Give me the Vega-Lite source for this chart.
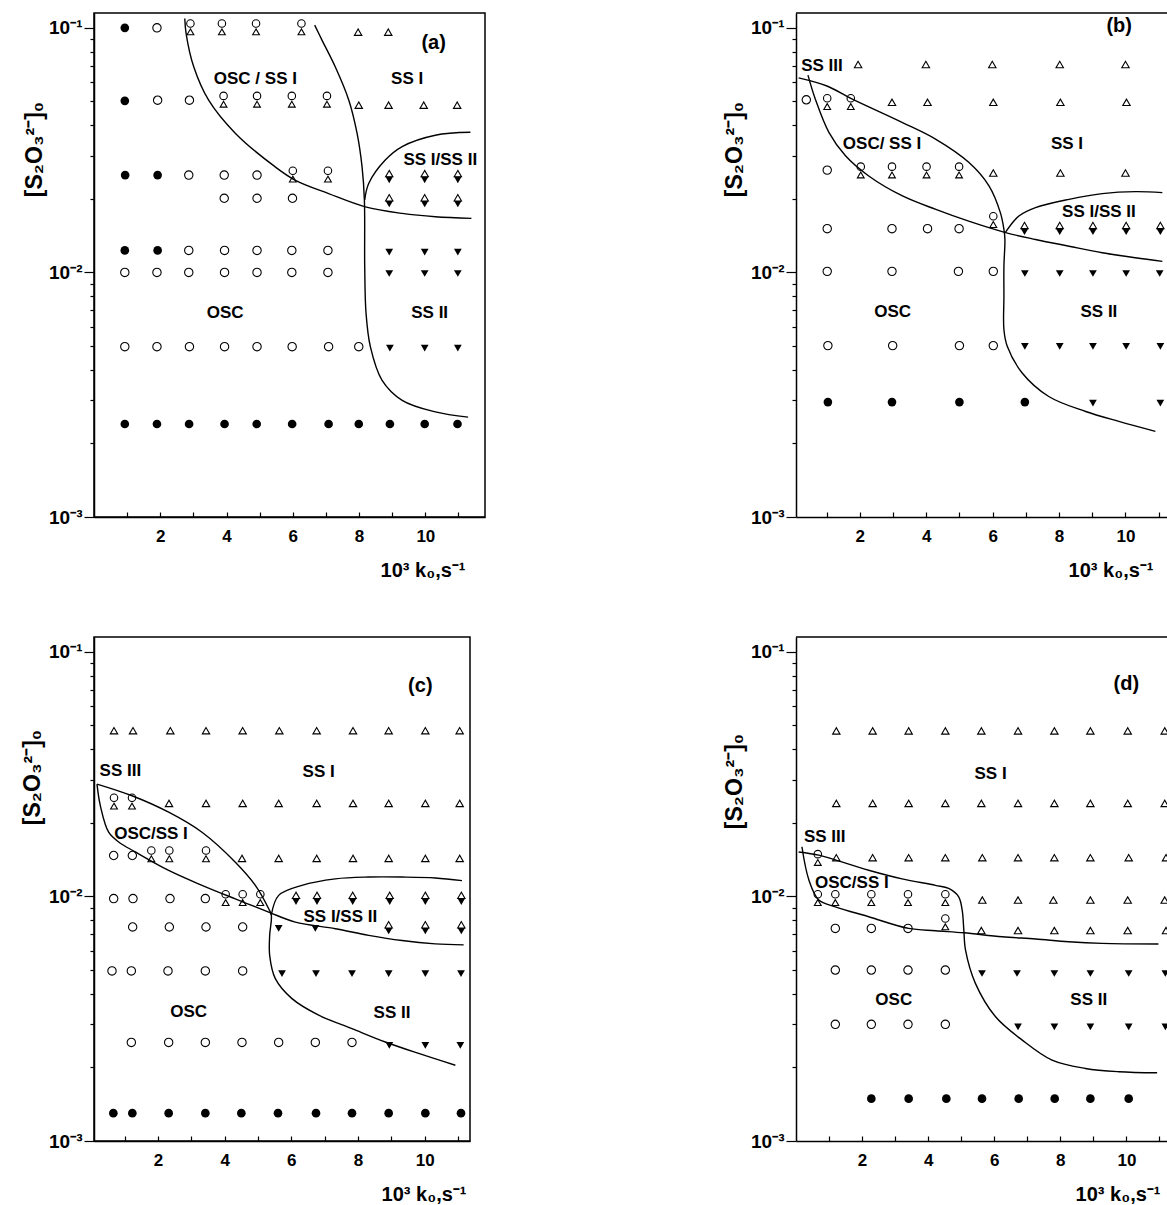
{
"$schema": "https://vega.github.io/schema/vega-lite/v6.json",
"background": "white",
"padding": {"left": 20, "top": 12, "right": 0, "bottom": 0},
"columns": 2,
"spacing": {"row": 120, "column": 311},
"bounds": "flush",
"datasets": {
"pts": [
{"p":"a","k":"fc","x":0.93,"y":0.1},{"p":"a","k":"oc","x":1.9,"y":0.1},{"p":"a","k":"co","x":2.91,"y":0.1},{"p":"a","k":"co","x":3.86,"y":0.1},{"p":"a","k":"co","x":4.89,"y":0.1},{"p":"a","k":"co","x":6.26,"y":0.1},{"p":"a","k":"ot","x":7.97,"y":0.096},{"p":"a","k":"ot","x":8.88,"y":0.096},
{"p":"a","k":"fc","x":0.93,"y":0.0503},{"p":"a","k":"oc","x":1.92,"y":0.0506},{"p":"a","k":"oc","x":2.88,"y":0.0506},{"p":"a","k":"co","x":3.91,"y":0.0506},{"p":"a","k":"co","x":4.92,"y":0.0506},{"p":"a","k":"co","x":5.97,"y":0.0506},{"p":"a","k":"co","x":7.03,"y":0.0506},{"p":"a","k":"ot","x":7.99,"y":0.0483},{"p":"a","k":"ot","x":8.89,"y":0.0483},{"p":"a","k":"ot","x":9.95,"y":0.0483},{"p":"a","k":"ot","x":10.96,"y":0.0483},
{"p":"a","k":"fc","x":0.94,"y":0.025},{"p":"a","k":"fc","x":1.92,"y":0.025},{"p":"a","k":"oc","x":2.86,"y":0.025},{"p":"a","k":"oc","x":3.93,"y":0.025},{"p":"a","k":"oc","x":4.92,"y":0.025},{"p":"a","k":"co","x":6.0,"y":0.025},{"p":"a","k":"co","x":7.06,"y":0.025},{"p":"a","k":"dm","x":8.91,"y":0.0246},{"p":"a","k":"dm","x":9.98,"y":0.0246},{"p":"a","k":"dm","x":10.98,"y":0.0246},
{"p":"a","k":"oc","x":3.93,"y":0.0201},{"p":"a","k":"oc","x":4.92,"y":0.0201},{"p":"a","k":"oc","x":5.99,"y":0.0201},{"p":"a","k":"dm","x":8.91,"y":0.0196},{"p":"a","k":"dm","x":9.98,"y":0.0196},{"p":"a","k":"dm","x":10.98,"y":0.0196},
{"p":"a","k":"fc","x":0.93,"y":0.0123},{"p":"a","k":"fc","x":1.92,"y":0.0123},{"p":"a","k":"oc","x":2.86,"y":0.0123},{"p":"a","k":"oc","x":3.94,"y":0.0123},{"p":"a","k":"oc","x":4.92,"y":0.0123},{"p":"a","k":"oc","x":5.97,"y":0.0123},{"p":"a","k":"oc","x":7.06,"y":0.0123},{"p":"a","k":"ftd","x":8.91,"y":0.0121},{"p":"a","k":"ftd","x":9.98,"y":0.0121},{"p":"a","k":"ftd","x":10.98,"y":0.0121},
{"p":"a","k":"oc","x":0.93,"y":0.01},{"p":"a","k":"oc","x":1.9,"y":0.01},{"p":"a","k":"oc","x":2.86,"y":0.01},{"p":"a","k":"oc","x":3.94,"y":0.01},{"p":"a","k":"oc","x":4.92,"y":0.01},{"p":"a","k":"oc","x":5.97,"y":0.01},{"p":"a","k":"oc","x":7.06,"y":0.01},{"p":"a","k":"ftd","x":8.91,"y":0.0099},{"p":"a","k":"ftd","x":9.98,"y":0.0099},{"p":"a","k":"ftd","x":10.98,"y":0.0099},
{"p":"a","k":"oc","x":0.93,"y":0.00497},{"p":"a","k":"oc","x":1.9,"y":0.00497},{"p":"a","k":"oc","x":2.88,"y":0.00497},{"p":"a","k":"oc","x":3.94,"y":0.00497},{"p":"a","k":"oc","x":4.92,"y":0.00497},{"p":"a","k":"oc","x":5.98,"y":0.00497},{"p":"a","k":"oc","x":7.08,"y":0.00497},{"p":"a","k":"oc","x":7.99,"y":0.00497},{"p":"a","k":"ftd","x":8.93,"y":0.0049},{"p":"a","k":"ftd","x":9.98,"y":0.0049},{"p":"a","k":"ftd","x":10.98,"y":0.0049},
{"p":"a","k":"fc","x":0.93,"y":0.0024},{"p":"a","k":"fc","x":1.9,"y":0.0024},{"p":"a","k":"fc","x":2.87,"y":0.0024},{"p":"a","k":"fc","x":3.94,"y":0.0024},{"p":"a","k":"fc","x":4.91,"y":0.0024},{"p":"a","k":"fc","x":5.98,"y":0.0024},{"p":"a","k":"fc","x":7.08,"y":0.0024},{"p":"a","k":"fc","x":7.99,"y":0.0024},{"p":"a","k":"fc","x":8.93,"y":0.0024},{"p":"a","k":"fc","x":9.98,"y":0.0024},{"p":"a","k":"fc","x":10.97,"y":0.0024},

{"p":"b","k":"ot","x":1.95,"y":0.0708},{"p":"b","k":"ot","x":3.99,"y":0.0708},{"p":"b","k":"ot","x":5.99,"y":0.0708},{"p":"b","k":"ot","x":8.02,"y":0.0708},{"p":"b","k":"ot","x":10.0,"y":0.0708},
{"p":"b","k":"oc","x":0.39,"y":0.0508},{"p":"b","k":"co","x":1.02,"y":0.0495},{"p":"b","k":"co","x":1.73,"y":0.0495},{"p":"b","k":"ot","x":2.97,"y":0.0496},{"p":"b","k":"ot","x":4.04,"y":0.0496},{"p":"b","k":"ot","x":6.02,"y":0.0496},{"p":"b","k":"ot","x":8.04,"y":0.0496},{"p":"b","k":"ot","x":10.03,"y":0.0496},
{"p":"b","k":"oc","x":1.02,"y":0.0262},{"p":"b","k":"co","x":2.03,"y":0.026},{"p":"b","k":"co","x":2.97,"y":0.026},{"p":"b","k":"co","x":4.01,"y":0.026},{"p":"b","k":"co","x":4.99,"y":0.026},{"p":"b","k":"ot","x":6.02,"y":0.0255},{"p":"b","k":"ot","x":8.04,"y":0.0255},{"p":"b","k":"ot","x":10.0,"y":0.0255},
{"p":"b","k":"oc","x":1.02,"y":0.0151},{"p":"b","k":"oc","x":2.97,"y":0.0151},{"p":"b","k":"oc","x":4.04,"y":0.0151},{"p":"b","k":"oc","x":4.99,"y":0.0151},{"p":"b","k":"co","x":6.02,"y":0.0163},{"p":"b","k":"dm","x":6.96,"y":0.0151},{"p":"b","k":"dm","x":8.02,"y":0.0151},{"p":"b","k":"dm","x":9.02,"y":0.0151},{"p":"b","k":"dm","x":10.02,"y":0.0151},{"p":"b","k":"dm","x":11.05,"y":0.0151},
{"p":"b","k":"oc","x":1.02,"y":0.0101},{"p":"b","k":"oc","x":2.97,"y":0.0101},{"p":"b","k":"oc","x":4.97,"y":0.0101},{"p":"b","k":"oc","x":6.02,"y":0.0101},{"p":"b","k":"ftd","x":6.97,"y":0.0099},{"p":"b","k":"ftd","x":8.02,"y":0.0099},{"p":"b","k":"ftd","x":9.02,"y":0.0099},{"p":"b","k":"ftd","x":10.02,"y":0.0099},{"p":"b","k":"ftd","x":11.03,"y":0.0099},
{"p":"b","k":"oc","x":1.04,"y":0.00502},{"p":"b","k":"oc","x":2.99,"y":0.00502},{"p":"b","k":"oc","x":5.0,"y":0.00502},{"p":"b","k":"oc","x":6.02,"y":0.00502},{"p":"b","k":"ftd","x":6.97,"y":0.00498},{"p":"b","k":"ftd","x":8.02,"y":0.00498},{"p":"b","k":"ftd","x":9.02,"y":0.00498},{"p":"b","k":"ftd","x":10.02,"y":0.00498},{"p":"b","k":"ftd","x":11.05,"y":0.00498},
{"p":"b","k":"fc","x":1.04,"y":0.00295},{"p":"b","k":"fc","x":2.97,"y":0.00295},{"p":"b","k":"fc","x":5.0,"y":0.00295},{"p":"b","k":"fc","x":6.97,"y":0.00295},{"p":"b","k":"ftd","x":9.02,"y":0.00292},{"p":"b","k":"ftd","x":11.05,"y":0.00292},

{"p":"c","k":"ot","x":0.68,"y":0.0476},{"p":"c","k":"ot","x":1.25,"y":0.0476},{"p":"c","k":"ot","x":2.37,"y":0.0476},{"p":"c","k":"ot","x":3.44,"y":0.0476},{"p":"c","k":"ot","x":4.54,"y":0.0476},{"p":"c","k":"ot","x":5.64,"y":0.0476},{"p":"c","k":"ot","x":6.76,"y":0.0476},{"p":"c","k":"ot","x":7.85,"y":0.0476},{"p":"c","k":"ot","x":8.92,"y":0.0476},{"p":"c","k":"ot","x":10.02,"y":0.0476},{"p":"c","k":"ot","x":11.05,"y":0.0476},
{"p":"c","k":"co","x":0.68,"y":0.0243},{"p":"c","k":"co","x":1.22,"y":0.0243},{"p":"c","k":"ot","x":2.33,"y":0.024},{"p":"c","k":"ot","x":3.44,"y":0.024},{"p":"c","k":"ot","x":4.54,"y":0.024},{"p":"c","k":"ot","x":5.62,"y":0.024},{"p":"c","k":"ot","x":6.76,"y":0.024},{"p":"c","k":"ot","x":7.85,"y":0.024},{"p":"c","k":"ot","x":8.92,"y":0.024},{"p":"c","k":"ot","x":10.02,"y":0.024},{"p":"c","k":"ot","x":11.05,"y":0.024},
{"p":"c","k":"oc","x":0.67,"y":0.0147},{"p":"c","k":"oc","x":1.23,"y":0.0147},{"p":"c","k":"co","x":1.8,"y":0.0148},{"p":"c","k":"co","x":2.34,"y":0.0148},{"p":"c","k":"co","x":3.44,"y":0.0148},{"p":"c","k":"ot","x":4.52,"y":0.0143},{"p":"c","k":"ot","x":5.62,"y":0.0143},{"p":"c","k":"ot","x":6.76,"y":0.0143},{"p":"c","k":"ot","x":7.85,"y":0.0143},{"p":"c","k":"ot","x":8.92,"y":0.0143},{"p":"c","k":"ot","x":10.02,"y":0.0143},{"p":"c","k":"ot","x":11.05,"y":0.0143},
{"p":"c","k":"oc","x":0.67,"y":0.0098},{"p":"c","k":"oc","x":1.25,"y":0.0098},{"p":"c","k":"oc","x":2.36,"y":0.0098},{"p":"c","k":"oc","x":3.42,"y":0.0098},{"p":"c","k":"co","x":4.03,"y":0.0098},{"p":"c","k":"co","x":4.54,"y":0.0098},{"p":"c","k":"co","x":5.07,"y":0.0098},{"p":"c","k":"dm","x":6.14,"y":0.0098},{"p":"c","k":"dm","x":6.77,"y":0.0098},{"p":"c","k":"dm","x":7.84,"y":0.0098},{"p":"c","k":"dm","x":8.95,"y":0.0098},{"p":"c","k":"dm","x":10.02,"y":0.0098},{"p":"c","k":"dm","x":11.1,"y":0.0098},
{"p":"c","k":"oc","x":1.24,"y":0.0075},{"p":"c","k":"oc","x":2.34,"y":0.0075},{"p":"c","k":"oc","x":3.44,"y":0.0075},{"p":"c","k":"oc","x":4.54,"y":0.0075},{"p":"c","k":"ftd","x":5.62,"y":0.0074},{"p":"c","k":"ftd","x":6.72,"y":0.0074},{"p":"c","k":"dm","x":8.92,"y":0.00743},{"p":"c","k":"dm","x":10.02,"y":0.00743},{"p":"c","k":"dm","x":11.1,"y":0.00743},
{"p":"c","k":"oc","x":0.62,"y":0.00496},{"p":"c","k":"oc","x":1.2,"y":0.00496},{"p":"c","k":"oc","x":2.3,"y":0.00496},{"p":"c","k":"oc","x":3.42,"y":0.00496},{"p":"c","k":"oc","x":4.54,"y":0.00496},{"p":"c","k":"ftd","x":5.72,"y":0.00483},{"p":"c","k":"ftd","x":6.74,"y":0.00483},{"p":"c","k":"ftd","x":7.82,"y":0.00483},{"p":"c","k":"ftd","x":8.92,"y":0.00483},{"p":"c","k":"ftd","x":10.02,"y":0.00483},{"p":"c","k":"ftd","x":11.09,"y":0.00483},
{"p":"c","k":"oc","x":1.2,"y":0.00253},{"p":"c","k":"oc","x":2.32,"y":0.00253},{"p":"c","k":"oc","x":3.42,"y":0.00253},{"p":"c","k":"oc","x":4.52,"y":0.00253},{"p":"c","k":"oc","x":5.62,"y":0.00253},{"p":"c","k":"oc","x":6.72,"y":0.00253},{"p":"c","k":"oc","x":7.82,"y":0.00253},{"p":"c","k":"ftd","x":8.94,"y":0.00246},{"p":"c","k":"ftd","x":10.02,"y":0.00246},{"p":"c","k":"ftd","x":11.07,"y":0.00246},
{"p":"c","k":"fc","x":0.66,"y":0.0013},{"p":"c","k":"fc","x":1.23,"y":0.0013},{"p":"c","k":"fc","x":2.32,"y":0.0013},{"p":"c","k":"fc","x":3.42,"y":0.0013},{"p":"c","k":"fc","x":4.5,"y":0.0013},{"p":"c","k":"fc","x":5.6,"y":0.0013},{"p":"c","k":"fc","x":6.74,"y":0.0013},{"p":"c","k":"fc","x":7.82,"y":0.0013},{"p":"c","k":"fc","x":8.92,"y":0.0013},{"p":"c","k":"fc","x":10.02,"y":0.0013},{"p":"c","k":"fc","x":11.09,"y":0.0013},

{"p":"d","k":"ot","x":1.22,"y":0.0475},{"p":"d","k":"ot","x":2.32,"y":0.0475},{"p":"d","k":"ot","x":3.41,"y":0.0475},{"p":"d","k":"ot","x":4.52,"y":0.0475},{"p":"d","k":"ot","x":5.61,"y":0.0475},{"p":"d","k":"ot","x":6.72,"y":0.0475},{"p":"d","k":"ot","x":7.82,"y":0.0475},{"p":"d","k":"ot","x":8.91,"y":0.0475},{"p":"d","k":"ot","x":10.04,"y":0.0475},{"p":"d","k":"ot","x":11.16,"y":0.0475},
{"p":"d","k":"ot","x":1.22,"y":0.024},{"p":"d","k":"ot","x":2.32,"y":0.024},{"p":"d","k":"ot","x":3.41,"y":0.024},{"p":"d","k":"ot","x":4.52,"y":0.024},{"p":"d","k":"ot","x":5.61,"y":0.024},{"p":"d","k":"ot","x":6.72,"y":0.024},{"p":"d","k":"ot","x":7.82,"y":0.024},{"p":"d","k":"ot","x":8.91,"y":0.024},{"p":"d","k":"ot","x":10.04,"y":0.024},{"p":"d","k":"ot","x":11.16,"y":0.024},
{"p":"d","k":"co","x":0.66,"y":0.0143},{"p":"d","k":"ot","x":1.22,"y":0.0144},{"p":"d","k":"ot","x":2.32,"y":0.0144},{"p":"d","k":"ot","x":3.41,"y":0.0144},{"p":"d","k":"ot","x":4.52,"y":0.0144},{"p":"d","k":"ot","x":5.64,"y":0.0144},{"p":"d","k":"ot","x":6.72,"y":0.0144},{"p":"d","k":"ot","x":7.82,"y":0.0144},{"p":"d","k":"ot","x":8.91,"y":0.0144},{"p":"d","k":"ot","x":10.07,"y":0.0144},{"p":"d","k":"ot","x":11.2,"y":0.0144},
{"p":"d","k":"co","x":0.66,"y":0.0098},{"p":"d","k":"co","x":1.19,"y":0.0098},{"p":"d","k":"co","x":2.28,"y":0.0098},{"p":"d","k":"co","x":3.39,"y":0.0098},{"p":"d","k":"co","x":4.52,"y":0.0098},{"p":"d","k":"ot","x":5.64,"y":0.00966},{"p":"d","k":"ot","x":6.72,"y":0.00966},{"p":"d","k":"ot","x":7.79,"y":0.00966},{"p":"d","k":"ot","x":8.91,"y":0.00966},{"p":"d","k":"ot","x":10.04,"y":0.00966},{"p":"d","k":"ot","x":11.16,"y":0.00966},
{"p":"d","k":"oc","x":1.19,"y":0.0074},{"p":"d","k":"oc","x":2.28,"y":0.0074},{"p":"d","k":"oc","x":3.39,"y":0.0074},{"p":"d","k":"co","x":4.52,"y":0.0078},{"p":"d","k":"ot","x":5.61,"y":0.00725},{"p":"d","k":"ot","x":6.72,"y":0.00725},{"p":"d","k":"ot","x":7.82,"y":0.00725},{"p":"d","k":"ot","x":8.91,"y":0.00725},{"p":"d","k":"ot","x":10.04,"y":0.00725},{"p":"d","k":"ot","x":11.2,"y":0.00725},
{"p":"d","k":"oc","x":1.19,"y":0.005},{"p":"d","k":"oc","x":2.28,"y":0.005},{"p":"d","k":"oc","x":3.39,"y":0.005},{"p":"d","k":"oc","x":4.52,"y":0.005},{"p":"d","k":"ftd","x":5.63,"y":0.00484},{"p":"d","k":"ftd","x":6.69,"y":0.00484},{"p":"d","k":"ftd","x":7.82,"y":0.00484},{"p":"d","k":"ftd","x":8.91,"y":0.00484},{"p":"d","k":"ftd","x":10.07,"y":0.00484},{"p":"d","k":"ftd","x":11.18,"y":0.00484},
{"p":"d","k":"oc","x":1.19,"y":0.003},{"p":"d","k":"oc","x":2.28,"y":0.003},{"p":"d","k":"oc","x":3.39,"y":0.003},{"p":"d","k":"oc","x":4.52,"y":0.003},{"p":"d","k":"ftd","x":6.72,"y":0.00293},{"p":"d","k":"ftd","x":7.82,"y":0.00293},{"p":"d","k":"ftd","x":8.91,"y":0.00293},{"p":"d","k":"ftd","x":10.07,"y":0.00293},{"p":"d","k":"ftd","x":11.18,"y":0.00293},
{"p":"d","k":"fc","x":2.28,"y":0.00149},{"p":"d","k":"fc","x":3.41,"y":0.00149},{"p":"d","k":"fc","x":4.55,"y":0.00149},{"p":"d","k":"fc","x":5.63,"y":0.00149},{"p":"d","k":"fc","x":6.74,"y":0.00149},{"p":"d","k":"fc","x":7.83,"y":0.00149},{"p":"d","k":"fc","x":8.91,"y":0.00149},{"p":"d","k":"fc","x":10.07,"y":0.00149}
],
"curves": [
{"p":"a","c":1,"o":1,"x":2.74,"y":0.1092},{"p":"a","c":1,"o":2,"x":2.78,"y":0.0948},{"p":"a","c":1,"o":3,"x":3.01,"y":0.0693},{"p":"a","c":1,"o":4,"x":3.46,"y":0.0506},{"p":"a","c":1,"o":5,"x":4.27,"y":0.037},{"p":"a","c":1,"o":6,"x":5.47,"y":0.027},{"p":"a","c":1,"o":7,"x":6.08,"y":0.0238},{"p":"a","c":1,"o":8,"x":7.08,"y":0.021},{"p":"a","c":1,"o":9,"x":8.19,"y":0.01854},{"p":"a","c":1,"o":10,"x":9.3,"y":0.01743},{"p":"a","c":1,"o":11,"x":10.3,"y":0.01689},{"p":"a","c":1,"o":12,"x":11.39,"y":0.01663},
{"p":"a","c":2,"o":1,"x":6.66,"y":0.1026},{"p":"a","c":2,"o":2,"x":6.88,"y":0.0891},{"p":"a","c":2,"o":3,"x":7.28,"y":0.0693},{"p":"a","c":2,"o":4,"x":7.69,"y":0.0506},{"p":"a","c":2,"o":5,"x":7.94,"y":0.037},{"p":"a","c":2,"o":6,"x":8.09,"y":0.027},{"p":"a","c":2,"o":7,"x":8.16,"y":0.0198},{"p":"a","c":2,"o":8,"x":8.17,"y":0.01054},{"p":"a","c":2,"o":9,"x":8.21,"y":0.00681},{"p":"a","c":2,"o":10,"x":8.34,"y":0.00497},{"p":"a","c":2,"o":11,"x":8.69,"y":0.00363},{"p":"a","c":2,"o":12,"x":9.3,"y":0.003},{"p":"a","c":2,"o":13,"x":10.3,"y":0.00269},{"p":"a","c":2,"o":14,"x":11.29,"y":0.00256},
{"p":"a","c":3,"o":1,"x":8.17,"y":0.0198},{"p":"a","c":3,"o":2,"x":8.29,"y":0.0231},{"p":"a","c":3,"o":3,"x":8.79,"y":0.0288},{"p":"a","c":3,"o":4,"x":9.3,"y":0.0327},{"p":"a","c":3,"o":5,"x":10.3,"y":0.0364},{"p":"a","c":3,"o":6,"x":11.36,"y":0.0374},

{"p":"b","c":1,"o":1,"x":0.16,"y":0.0624},{"p":"b","c":1,"o":2,"x":1.03,"y":0.0577},{"p":"b","c":1,"o":3,"x":1.73,"y":0.0515},{"p":"b","c":1,"o":4,"x":3.27,"y":0.0411},{"p":"b","c":1,"o":5,"x":4.28,"y":0.0351},{"p":"b","c":1,"o":6,"x":5.28,"y":0.0282},{"p":"b","c":1,"o":7,"x":5.89,"y":0.0226},{"p":"b","c":1,"o":8,"x":6.23,"y":0.0176},{"p":"b","c":1,"o":9,"x":6.34,"y":0.015},{"p":"b","c":1,"o":10,"x":6.37,"y":0.01365},{"p":"b","c":1,"o":11,"x":6.34,"y":0.0106},{"p":"b","c":1,"o":12,"x":6.34,"y":0.008},{"p":"b","c":1,"o":13,"x":6.34,"y":0.00583},{"p":"b","c":1,"o":14,"x":6.44,"y":0.00499},{"p":"b","c":1,"o":15,"x":6.89,"y":0.00388},{"p":"b","c":1,"o":16,"x":7.69,"y":0.00311},{"p":"b","c":1,"o":17,"x":8.8,"y":0.0027},{"p":"b","c":1,"o":18,"x":9.8,"y":0.00246},{"p":"b","c":1,"o":19,"x":10.9,"y":0.00224},
{"p":"b","c":2,"o":1,"x":0.44,"y":0.0641},{"p":"b","c":2,"o":2,"x":0.66,"y":0.0512},{"p":"b","c":2,"o":3,"x":1.07,"y":0.0374},{"p":"b","c":2,"o":4,"x":1.57,"y":0.03},{"p":"b","c":2,"o":5,"x":2.27,"y":0.0248},{"p":"b","c":2,"o":6,"x":3.27,"y":0.0206},{"p":"b","c":2,"o":7,"x":4.29,"y":0.0181},{"p":"b","c":2,"o":8,"x":5.28,"y":0.0162},{"p":"b","c":2,"o":9,"x":6.39,"y":0.01455},{"p":"b","c":2,"o":10,"x":7.29,"y":0.01364},{"p":"b","c":2,"o":11,"x":8.3,"y":0.0128},{"p":"b","c":2,"o":12,"x":9.3,"y":0.01204},{"p":"b","c":2,"o":13,"x":10.3,"y":0.01148},{"p":"b","c":2,"o":14,"x":11.11,"y":0.0111},
{"p":"b","c":3,"o":1,"x":6.39,"y":0.0146},{"p":"b","c":3,"o":2,"x":6.79,"y":0.017},{"p":"b","c":3,"o":3,"x":7.29,"y":0.0184},{"p":"b","c":3,"o":4,"x":8.3,"y":0.0199},{"p":"b","c":3,"o":5,"x":9.3,"y":0.021},{"p":"b","c":3,"o":6,"x":10.3,"y":0.0214},{"p":"b","c":3,"o":7,"x":11.11,"y":0.0212},

{"p":"c","c":1,"o":1,"x":0.17,"y":0.0288},{"p":"c","c":1,"o":2,"x":1.22,"y":0.0258},{"p":"c","c":1,"o":3,"x":2.32,"y":0.0221},{"p":"c","c":1,"o":4,"x":3.32,"y":0.0183},{"p":"c","c":1,"o":5,"x":4.32,"y":0.0138},{"p":"c","c":1,"o":6,"x":4.92,"y":0.0111},{"p":"c","c":1,"o":7,"x":5.32,"y":0.0089},{"p":"c","c":1,"o":8,"x":5.4,"y":0.00836},{"p":"c","c":1,"o":9,"x":5.35,"y":0.00693},{"p":"c","c":1,"o":10,"x":5.35,"y":0.00574},{"p":"c","c":1,"o":11,"x":5.52,"y":0.00461},{"p":"c","c":1,"o":12,"x":6.02,"y":0.00382},{"p":"c","c":1,"o":13,"x":6.82,"y":0.00327},{"p":"c","c":1,"o":14,"x":7.82,"y":0.00288},{"p":"c","c":1,"o":15,"x":8.82,"y":0.00254},{"p":"c","c":1,"o":16,"x":9.82,"y":0.00228},{"p":"c","c":1,"o":17,"x":10.92,"y":0.00204},
{"p":"c","c":2,"o":1,"x":0.17,"y":0.0288},{"p":"c","c":2,"o":2,"x":0.27,"y":0.0235},{"p":"c","c":2,"o":3,"x":0.52,"y":0.0183},{"p":"c","c":2,"o":4,"x":0.82,"y":0.0167},{"p":"c","c":2,"o":5,"x":1.32,"y":0.0152},{"p":"c","c":2,"o":6,"x":2.32,"y":0.01277},{"p":"c","c":2,"o":7,"x":3.32,"y":0.0111},{"p":"c","c":2,"o":8,"x":4.32,"y":0.00977},{"p":"c","c":2,"o":9,"x":5.32,"y":0.00863},{"p":"c","c":2,"o":10,"x":6.12,"y":0.00785},{"p":"c","c":2,"o":11,"x":7.32,"y":0.00738},{"p":"c","c":2,"o":12,"x":8.32,"y":0.00693},{"p":"c","c":2,"o":13,"x":9.32,"y":0.0066},{"p":"c","c":2,"o":14,"x":10.32,"y":0.0064},{"p":"c","c":2,"o":15,"x":11.17,"y":0.00634},
{"p":"c","c":3,"o":1,"x":5.4,"y":0.0084},{"p":"c","c":3,"o":2,"x":5.62,"y":0.0101},{"p":"c","c":3,"o":3,"x":6.32,"y":0.0111},{"p":"c","c":3,"o":4,"x":7.32,"y":0.0118},{"p":"c","c":3,"o":5,"x":8.32,"y":0.012},{"p":"c","c":3,"o":6,"x":9.32,"y":0.012},{"p":"c","c":3,"o":7,"x":10.32,"y":0.0119},{"p":"c","c":3,"o":8,"x":11.12,"y":0.0116},

{"p":"d","c":1,"o":1,"x":0.08,"y":0.0152},{"p":"d","c":1,"o":2,"x":0.69,"y":0.01476},{"p":"d","c":1,"o":3,"x":1.19,"y":0.0141},{"p":"d","c":1,"o":4,"x":2.2,"y":0.0128},{"p":"d","c":1,"o":5,"x":3.21,"y":0.0118},{"p":"d","c":1,"o":6,"x":4.22,"y":0.0111},{"p":"d","c":1,"o":7,"x":4.62,"y":0.01078},{"p":"d","c":1,"o":8,"x":4.92,"y":0.00998},{"p":"d","c":1,"o":9,"x":5.03,"y":0.00879},{"p":"d","c":1,"o":10,"x":5.08,"y":0.00728},{"p":"d","c":1,"o":11,"x":5.13,"y":0.00604},{"p":"d","c":1,"o":12,"x":5.43,"y":0.00441},{"p":"d","c":1,"o":13,"x":6.04,"y":0.00322},{"p":"d","c":1,"o":14,"x":6.84,"y":0.00259},{"p":"d","c":1,"o":15,"x":7.75,"y":0.00214},{"p":"d","c":1,"o":16,"x":8.76,"y":0.00198},{"p":"d","c":1,"o":17,"x":9.77,"y":0.00192},{"p":"d","c":1,"o":18,"x":10.93,"y":0.0019},
{"p":"d","c":2,"o":1,"x":0.18,"y":0.01596},{"p":"d","c":2,"o":2,"x":0.39,"y":0.01167},{"p":"d","c":2,"o":3,"x":0.69,"y":0.00966},{"p":"d","c":2,"o":4,"x":1.19,"y":0.00907},{"p":"d","c":2,"o":5,"x":2.2,"y":0.00826},{"p":"d","c":2,"o":6,"x":3.41,"y":0.0074},{"p":"d","c":2,"o":7,"x":4.22,"y":0.00724},{"p":"d","c":2,"o":8,"x":5.08,"y":0.0071},{"p":"d","c":2,"o":9,"x":6.24,"y":0.00684},{"p":"d","c":2,"o":10,"x":7.25,"y":0.0067},{"p":"d","c":2,"o":11,"x":8.25,"y":0.00653},{"p":"d","c":2,"o":12,"x":9.26,"y":0.00643},{"p":"d","c":2,"o":13,"x":10.97,"y":0.00639}
],
"labels": [
{"p":"a","t":"OSC / SS I","x":4.87,"y":0.062},{"p":"a","t":"SS I","x":9.45,"y":0.062},{"p":"a","t":"SS I/SS II","x":10.45,"y":0.0288},{"p":"a","t":"OSC","x":3.96,"y":0.0068},{"p":"a","t":"SS II","x":10.13,"y":0.0068},
{"p":"b","t":"SS III","x":0.86,"y":0.07},{"p":"b","t":"OSC/ SS I","x":2.67,"y":0.0335},{"p":"b","t":"SS I","x":8.24,"y":0.0335},{"p":"b","t":"SS I/SS II","x":9.2,"y":0.0176},{"p":"b","t":"OSC","x":2.99,"y":0.0069},{"p":"b","t":"SS II","x":9.2,"y":0.0069},
{"p":"c","t":"SS III","x":0.87,"y":0.0327},{"p":"c","t":"SS I","x":6.82,"y":0.0322},{"p":"c","t":"OSC/SS I","x":1.79,"y":0.018},{"p":"c","t":"SS I/SS II","x":7.47,"y":0.00822},{"p":"c","t":"OSC","x":2.92,"y":0.00337},{"p":"c","t":"SS II","x":9.02,"y":0.00333},
{"p":"d","t":"SS I","x":5.89,"y":0.0318},{"p":"d","t":"SS III","x":0.87,"y":0.0175},{"p":"d","t":"OSC/SS I","x":1.69,"y":0.01138},{"p":"d","t":"OSC","x":2.96,"y":0.00377},{"p":"d","t":"SS II","x":8.86,"y":0.00377}
],
"tags": [
{"p":"a","t":"(a)","x":10.25,"y":0.0863},{"p":"b","t":"(b)","x":9.81,"y":0.102},{"p":"c","t":"(c)","x":9.87,"y":0.0726},{"p":"d","t":"(d)","x":10.0,"y":0.0742}
]
},
"concat": [
{
"width": 391, "height": 504,
"layer": [{
"encoding": {
"x": {"field":"x","type":"quantitative","scale":{"domain":[0,11.8],"nice":false,"zero":false},"axis":{"values":[1,2,3,4,5,6,7,8,9,10,11],"labelExpr":"datum.value % 2 == 0 ? datum.label : ''","tickSize":-5,"labelPadding":16,"labelFontSize":17,"labelBaseline":"top","labelOverlap":false,"labelFlush":false,"title":"10³ k₀,s⁻¹","titleFontSize":20,"titleX":371,"titleY":59,"titleAlign":"right","titleBaseline":"alphabetic"}},
"y": {"field":"y","type":"quantitative","scale":{"type":"log","domain":[0.001,0.115],"nice":false},"axis":{"values":[0.001,0.002,0.003,0.004,0.005,0.006,0.007,0.008,0.009,0.01,0.02,0.03,0.04,0.05,0.06,0.07,0.08,0.09,0.1],"labelExpr":"datum.value == 0.1 ? '10⁻¹' : datum.value == 0.01 ? '10⁻²' : datum.value == 0.001 ? '10⁻³' : ''","tickSize":{"condition":{"test":"datum.value == 0.1 || datum.value == 0.01 || datum.value == 0.001","value":10},"value":4},"labelPadding":2,"labelFontSize":19,"labelOverlap":false,"labelBaseline":"middle","title":"[S₂O₃²⁻]₀","titleFontSize":23,"titleX":-60,"titleY":136,"titleAngle":-90,"titleAlign":"center","titleBaseline":"middle"}}
},
"layer": [
{"data":{"name":"curves"},"transform":[{"filter":"datum.p=='a'"}],"mark":{"type":"line","interpolate":"catmull-rom","color":"black","strokeWidth":1.4},"encoding":{"detail":{"field":"c","type":"nominal"},"order":{"field":"o","type":"quantitative"}}},
{"data":{"name":"pts"},"transform":[{"filter":"datum.p=='a' && datum.k=='fc'"}],"mark":{"type":"point","shape":"circle","filled":true,"color":"black","opacity":1,"size":75}},
{"data":{"name":"pts"},"transform":[{"filter":"datum.p=='a' && datum.k=='oc'"}],"mark":{"type":"point","shape":"circle","filled":false,"color":"black","opacity":1,"strokeWidth":1.1,"size":70}},
{"data":{"name":"pts"},"transform":[{"filter":"datum.p=='a' && datum.k=='ot'"}],"mark":{"type":"point","shape":"triangle-up","filled":false,"color":"black","opacity":1,"strokeWidth":1.1,"size":55}},
{"data":{"name":"pts"},"transform":[{"filter":"datum.p=='a' && datum.k=='ftd'"}],"mark":{"type":"point","shape":"triangle-down","filled":true,"color":"black","opacity":1,"size":60}},
{"data":{"name":"pts"},"transform":[{"filter":"datum.p=='a' && datum.k=='co'"}],"mark":{"type":"point","shape":"circle","filled":false,"color":"black","opacity":1,"strokeWidth":1.1,"size":56,"yOffset":-4.3}},
{"data":{"name":"pts"},"transform":[{"filter":"datum.p=='a' && datum.k=='co'"}],"mark":{"type":"point","shape":"triangle-up","filled":false,"color":"black","opacity":1,"strokeWidth":1.1,"size":46,"yOffset":4}},
{"data":{"name":"pts"},"transform":[{"filter":"datum.p=='a' && datum.k=='dm'"}],"mark":{"type":"point","shape":"triangle-up","filled":false,"color":"black","opacity":1,"strokeWidth":1.1,"size":54,"yOffset":-3.2}},
{"data":{"name":"pts"},"transform":[{"filter":"datum.p=='a' && datum.k=='dm'"}],"mark":{"type":"point","shape":"triangle-down","filled":true,"color":"black","opacity":1,"size":54,"yOffset":3.2}},
{"data":{"name":"labels"},"transform":[{"filter":"datum.p=='a'"}],"mark":{"type":"text","fontWeight":"bold","fontSize":17,"color":"black","align":"center","baseline":"middle"},"encoding":{"text":{"field":"t","type":"nominal"}}},
{"data":{"name":"tags"},"transform":[{"filter":"datum.p=='a'"}],"mark":{"type":"text","fontWeight":"bold","fontSize":20,"color":"black","align":"center","baseline":"middle"},"encoding":{"text":{"field":"t","type":"nominal"}}}
]}]
},
{
"width": 373, "height": 504,
"view": {"stroke": null},
"layer": [{
"encoding": {
"x": {"field":"x","type":"quantitative","scale":{"domain":[0.08,11.31],"nice":false,"zero":false},"axis":{"values":[1,2,3,4,5,6,7,8,9,10,11],"labelExpr":"datum.value % 2 == 0 ? datum.label : ''","tickSize":-5,"labelPadding":16,"labelFontSize":17,"labelBaseline":"top","labelOverlap":false,"labelFlush":false,"title":"10³ k₀,s⁻¹","titleFontSize":20,"titleX":357,"titleY":59,"titleAlign":"right","titleBaseline":"alphabetic"}},
"y": {"field":"y","type":"quantitative","scale":{"type":"log","domain":[0.001,0.115],"nice":false},"axis":{"values":[0.001,0.002,0.003,0.004,0.005,0.006,0.007,0.008,0.009,0.01,0.02,0.03,0.04,0.05,0.06,0.07,0.08,0.09,0.1],"labelExpr":"datum.value == 0.1 ? '10⁻¹' : datum.value == 0.01 ? '10⁻²' : datum.value == 0.001 ? '10⁻³' : ''","tickSize":{"condition":{"test":"datum.value == 0.1 || datum.value == 0.01 || datum.value == 0.001","value":10},"value":4},"labelPadding":2,"labelFontSize":19,"labelOverlap":false,"labelBaseline":"middle","title":"[S₂O₃²⁻]₀","titleFontSize":23,"titleX":-62,"titleY":136,"titleAngle":-90,"titleAlign":"center","titleBaseline":"middle"}}
},
"layer": [
{"data":{"name":"curves"},"transform":[{"filter":"datum.p=='b'"}],"mark":{"type":"line","interpolate":"catmull-rom","color":"black","strokeWidth":1.4},"encoding":{"detail":{"field":"c","type":"nominal"},"order":{"field":"o","type":"quantitative"}}},
{"data":{"name":"pts"},"transform":[{"filter":"datum.p=='b' && datum.k=='fc'"}],"mark":{"type":"point","shape":"circle","filled":true,"color":"black","opacity":1,"size":75}},
{"data":{"name":"pts"},"transform":[{"filter":"datum.p=='b' && datum.k=='oc'"}],"mark":{"type":"point","shape":"circle","filled":false,"color":"black","opacity":1,"strokeWidth":1.1,"size":70}},
{"data":{"name":"pts"},"transform":[{"filter":"datum.p=='b' && datum.k=='ot'"}],"mark":{"type":"point","shape":"triangle-up","filled":false,"color":"black","opacity":1,"strokeWidth":1.1,"size":55}},
{"data":{"name":"pts"},"transform":[{"filter":"datum.p=='b' && datum.k=='ftd'"}],"mark":{"type":"point","shape":"triangle-down","filled":true,"color":"black","opacity":1,"size":60}},
{"data":{"name":"pts"},"transform":[{"filter":"datum.p=='b' && datum.k=='co'"}],"mark":{"type":"point","shape":"circle","filled":false,"color":"black","opacity":1,"strokeWidth":1.1,"size":56,"yOffset":-4.3}},
{"data":{"name":"pts"},"transform":[{"filter":"datum.p=='b' && datum.k=='co'"}],"mark":{"type":"point","shape":"triangle-up","filled":false,"color":"black","opacity":1,"strokeWidth":1.1,"size":46,"yOffset":4}},
{"data":{"name":"pts"},"transform":[{"filter":"datum.p=='b' && datum.k=='dm'"}],"mark":{"type":"point","shape":"triangle-up","filled":false,"color":"black","opacity":1,"strokeWidth":1.1,"size":54,"yOffset":-3.2}},
{"data":{"name":"pts"},"transform":[{"filter":"datum.p=='b' && datum.k=='dm'"}],"mark":{"type":"point","shape":"triangle-down","filled":true,"color":"black","opacity":1,"size":54,"yOffset":3.2}},
{"data":{"name":"labels"},"transform":[{"filter":"datum.p=='b'"}],"mark":{"type":"text","fontWeight":"bold","fontSize":17,"color":"black","align":"center","baseline":"middle"},"encoding":{"text":{"field":"t","type":"nominal"}}},
{"data":{"name":"tags"},"transform":[{"filter":"datum.p=='b'"}],"mark":{"type":"text","fontWeight":"bold","fontSize":20,"color":"black","align":"center","baseline":"middle"},"encoding":{"text":{"field":"t","type":"nominal"}}}
]},
{"data":{"values":[{}]},"mark":{"type":"rule","color":"black","strokeWidth":1.5},"encoding":{"y":{"datum":0.115}}}
]
},
{
"width": 376, "height": 504,
"layer": [{
"encoding": {
"x": {"field":"x","type":"quantitative","scale":{"domain":[0.08,11.36],"nice":false,"zero":false},"axis":{"values":[1,2,3,4,5,6,7,8,9,10,11],"labelExpr":"datum.value % 2 == 0 ? datum.label : ''","tickSize":-5,"labelPadding":16,"labelFontSize":17,"labelBaseline":"top","labelOverlap":false,"labelFlush":false,"title":"10³ k₀,s⁻¹","titleFontSize":20,"titleX":372,"titleY":59,"titleAlign":"right","titleBaseline":"alphabetic"}},
"y": {"field":"y","type":"quantitative","scale":{"type":"log","domain":[0.001,0.115],"nice":false},"axis":{"values":[0.001,0.002,0.003,0.004,0.005,0.006,0.007,0.008,0.009,0.01,0.02,0.03,0.04,0.05,0.06,0.07,0.08,0.09,0.1],"labelExpr":"datum.value == 0.1 ? '10⁻¹' : datum.value == 0.01 ? '10⁻²' : datum.value == 0.001 ? '10⁻³' : ''","tickSize":{"condition":{"test":"datum.value == 0.1 || datum.value == 0.01 || datum.value == 0.001","value":10},"value":4},"labelPadding":2,"labelFontSize":19,"labelOverlap":false,"labelBaseline":"middle","title":"[S₂O₃²⁻]₀","titleFontSize":23,"titleX":-62,"titleY":140,"titleAngle":-90,"titleAlign":"center","titleBaseline":"middle"}}
},
"layer": [
{"data":{"name":"curves"},"transform":[{"filter":"datum.p=='c'"}],"mark":{"type":"line","interpolate":"catmull-rom","color":"black","strokeWidth":1.4},"encoding":{"detail":{"field":"c","type":"nominal"},"order":{"field":"o","type":"quantitative"}}},
{"data":{"name":"pts"},"transform":[{"filter":"datum.p=='c' && datum.k=='fc'"}],"mark":{"type":"point","shape":"circle","filled":true,"color":"black","opacity":1,"size":75}},
{"data":{"name":"pts"},"transform":[{"filter":"datum.p=='c' && datum.k=='oc'"}],"mark":{"type":"point","shape":"circle","filled":false,"color":"black","opacity":1,"strokeWidth":1.1,"size":70}},
{"data":{"name":"pts"},"transform":[{"filter":"datum.p=='c' && datum.k=='ot'"}],"mark":{"type":"point","shape":"triangle-up","filled":false,"color":"black","opacity":1,"strokeWidth":1.1,"size":55}},
{"data":{"name":"pts"},"transform":[{"filter":"datum.p=='c' && datum.k=='ftd'"}],"mark":{"type":"point","shape":"triangle-down","filled":true,"color":"black","opacity":1,"size":60}},
{"data":{"name":"pts"},"transform":[{"filter":"datum.p=='c' && datum.k=='co'"}],"mark":{"type":"point","shape":"circle","filled":false,"color":"black","opacity":1,"strokeWidth":1.1,"size":56,"yOffset":-4.3}},
{"data":{"name":"pts"},"transform":[{"filter":"datum.p=='c' && datum.k=='co'"}],"mark":{"type":"point","shape":"triangle-up","filled":false,"color":"black","opacity":1,"strokeWidth":1.1,"size":46,"yOffset":4}},
{"data":{"name":"pts"},"transform":[{"filter":"datum.p=='c' && datum.k=='dm'"}],"mark":{"type":"point","shape":"triangle-up","filled":false,"color":"black","opacity":1,"strokeWidth":1.1,"size":54,"yOffset":-3.2}},
{"data":{"name":"pts"},"transform":[{"filter":"datum.p=='c' && datum.k=='dm'"}],"mark":{"type":"point","shape":"triangle-down","filled":true,"color":"black","opacity":1,"size":54,"yOffset":3.2}},
{"data":{"name":"labels"},"transform":[{"filter":"datum.p=='c'"}],"mark":{"type":"text","fontWeight":"bold","fontSize":17,"color":"black","align":"center","baseline":"middle"},"encoding":{"text":{"field":"t","type":"nominal"}}},
{"data":{"name":"tags"},"transform":[{"filter":"datum.p=='c'"}],"mark":{"type":"text","fontWeight":"bold","fontSize":20,"color":"black","align":"center","baseline":"middle"},"encoding":{"text":{"field":"t","type":"nominal"}}}
]}]
},
{
"width": 373, "height": 504,
"view": {"stroke": null},
"layer": [{
"encoding": {
"x": {"field":"x","type":"quantitative","scale":{"domain":[0,11.29],"nice":false,"zero":false},"axis":{"values":[1,2,3,4,5,6,7,8,9,10,11],"labelExpr":"datum.value % 2 == 0 ? datum.label : ''","tickSize":-5,"labelPadding":16,"labelFontSize":17,"labelBaseline":"top","labelOverlap":false,"labelFlush":false,"title":"10³ k₀,s⁻¹","titleFontSize":20,"titleX":364,"titleY":59,"titleAlign":"right","titleBaseline":"alphabetic"}},
"y": {"field":"y","type":"quantitative","scale":{"type":"log","domain":[0.001,0.115],"nice":false},"axis":{"values":[0.001,0.002,0.003,0.004,0.005,0.006,0.007,0.008,0.009,0.01,0.02,0.03,0.04,0.05,0.06,0.07,0.08,0.09,0.1],"labelExpr":"datum.value == 0.1 ? '10⁻¹' : datum.value == 0.01 ? '10⁻²' : datum.value == 0.001 ? '10⁻³' : ''","tickSize":{"condition":{"test":"datum.value == 0.1 || datum.value == 0.01 || datum.value == 0.001","value":10},"value":4},"labelPadding":2,"labelFontSize":19,"labelOverlap":false,"labelBaseline":"middle","title":"[S₂O₃²⁻]₀","titleFontSize":23,"titleX":-62,"titleY":144,"titleAngle":-90,"titleAlign":"center","titleBaseline":"middle"}}
},
"layer": [
{"data":{"name":"curves"},"transform":[{"filter":"datum.p=='d'"}],"mark":{"type":"line","interpolate":"catmull-rom","color":"black","strokeWidth":1.4},"encoding":{"detail":{"field":"c","type":"nominal"},"order":{"field":"o","type":"quantitative"}}},
{"data":{"name":"pts"},"transform":[{"filter":"datum.p=='d' && datum.k=='fc'"}],"mark":{"type":"point","shape":"circle","filled":true,"color":"black","opacity":1,"size":75}},
{"data":{"name":"pts"},"transform":[{"filter":"datum.p=='d' && datum.k=='oc'"}],"mark":{"type":"point","shape":"circle","filled":false,"color":"black","opacity":1,"strokeWidth":1.1,"size":70}},
{"data":{"name":"pts"},"transform":[{"filter":"datum.p=='d' && datum.k=='ot'"}],"mark":{"type":"point","shape":"triangle-up","filled":false,"color":"black","opacity":1,"strokeWidth":1.1,"size":55}},
{"data":{"name":"pts"},"transform":[{"filter":"datum.p=='d' && datum.k=='ftd'"}],"mark":{"type":"point","shape":"triangle-down","filled":true,"color":"black","opacity":1,"size":60}},
{"data":{"name":"pts"},"transform":[{"filter":"datum.p=='d' && datum.k=='co'"}],"mark":{"type":"point","shape":"circle","filled":false,"color":"black","opacity":1,"strokeWidth":1.1,"size":56,"yOffset":-4.3}},
{"data":{"name":"pts"},"transform":[{"filter":"datum.p=='d' && datum.k=='co'"}],"mark":{"type":"point","shape":"triangle-up","filled":false,"color":"black","opacity":1,"strokeWidth":1.1,"size":46,"yOffset":4}},
{"data":{"name":"labels"},"transform":[{"filter":"datum.p=='d'"}],"mark":{"type":"text","fontWeight":"bold","fontSize":17,"color":"black","align":"center","baseline":"middle"},"encoding":{"text":{"field":"t","type":"nominal"}}},
{"data":{"name":"tags"},"transform":[{"filter":"datum.p=='d'"}],"mark":{"type":"text","fontWeight":"bold","fontSize":20,"color":"black","align":"center","baseline":"middle"},"encoding":{"text":{"field":"t","type":"nominal"}}}
]},
{"data":{"values":[{}]},"mark":{"type":"rule","color":"black","strokeWidth":1.5},"encoding":{"y":{"datum":0.115}}}
]
}
],
"config": {
"font": "Liberation Sans",
"view": {"stroke": "black", "strokeWidth": 1.5},
"axis": {"grid": false, "domainColor": "black", "domainWidth": 1.5, "tickColor": "black", "tickWidth": 1.2, "labelColor": "black", "labelFont": "Liberation Sans", "labelFontWeight": "bold", "titleFont": "Liberation Sans", "titleFontWeight": "bold", "titleColor": "black"},
"text": {"font": "Liberation Sans"}
}
}
